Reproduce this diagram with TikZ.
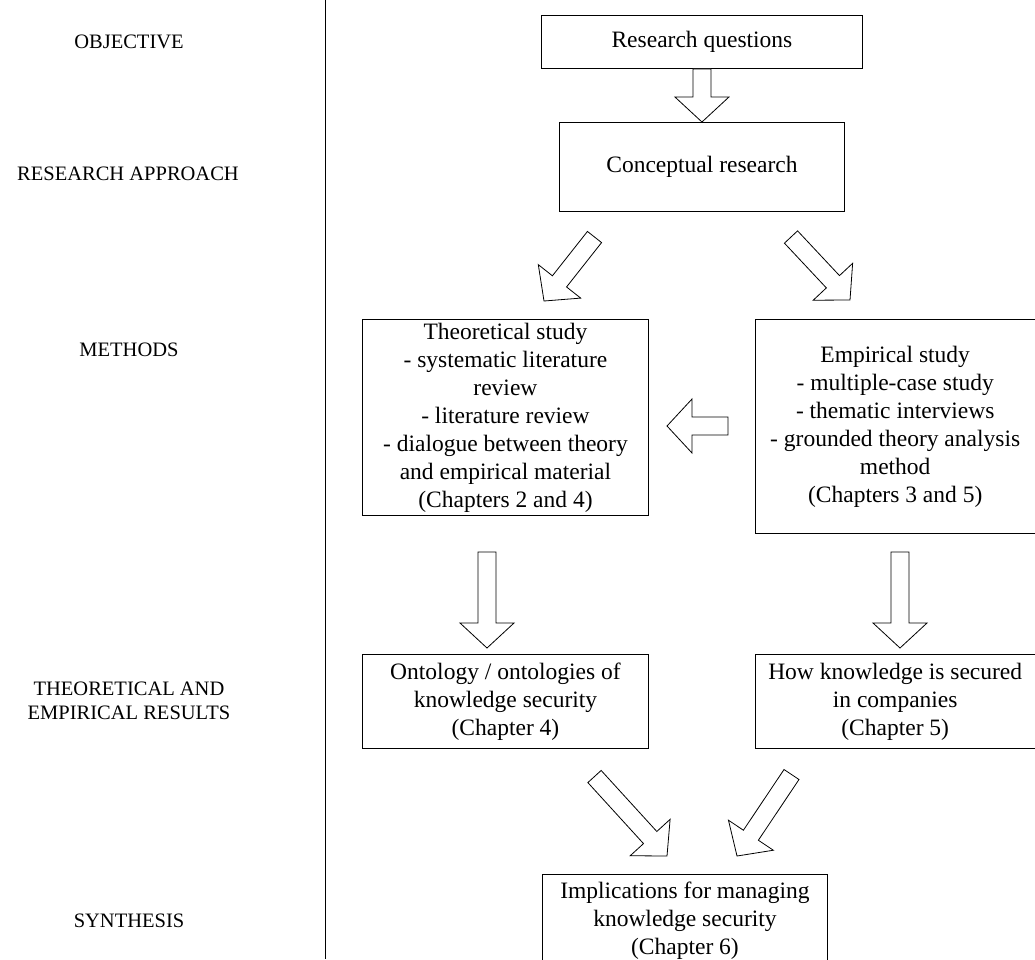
\documentclass[tikz,border=0pt]{standalone}
\usepackage{fontspec}
\setmainfont{Liberation Serif}
\usetikzlibrary{calc}

% dimensions of the hollow block arrows
\newcommand\bashaft{9pt}
\newcommand\bawing{27pt}
\newcommand\bahead{25pt}
% hollow block arrow from #1 (tail centre) to #2 (tip)
\newcommand\blockarrow[2]{%
  \coordinate (ba-c) at ($(#2)!\bahead!(#1)$);
  \draw[blockarrowline]
    ($(#1)!\bashaft!90:(#2)$) -- ($(ba-c)!\bashaft!90:(#2)$) --
    ($(ba-c)!\bawing!90:(#2)$) -- (#2) --
    ($(ba-c)!\bawing!-90:(#2)$) -- ($(ba-c)!\bashaft!-90:(#2)$) --
    ($(#1)!\bashaft!-90:(#2)$) -- cycle;
}

\begin{document}
\begin{tikzpicture}[x=1pt,y=1pt,
  box/.style={draw=black, line width=0.9pt, anchor=north west, align=center,
    inner sep=0pt, font=\fontsize{23.5}{28}\selectfont},
  rowlabel/.style={align=center, font=\fontsize{20.5}{24}\selectfont},
  blockarrowline/.style={draw=black, line width=0.8pt, fill=white, line join=miter}]
\useasboundingbox (0,0) rectangle (1035,-959);
\clip (0,0) rectangle (1035,-959);

% row labels and separator
\node[rowlabel] (lobj) at (129,-42) {OBJECTIVE};
\node[rowlabel] (lapp) at (128,-174) {RESEARCH APPROACH};
\node[rowlabel] (lmet) at (129,-350) {METHODS};
\node[rowlabel] (lres) at (129,-701) {THEORETICAL AND\\EMPIRICAL RESULTS};
\node[rowlabel] (lsyn) at (129,-921) {SYNTHESIS};
\draw[line width=0.8pt] (325,0) coordinate (sepT) -- (325,-959) coordinate (sepB);

% boxes
\node[box, minimum width=321, minimum height=53] (rq) at (541,-15) {Research questions};
\node[box, minimum width=285, minimum height=89] (cr) at (559,-122) {Conceptual research};
\node[box, minimum width=286, minimum height=196] (ts) at (362,-319)
  {Theoretical study\\- systematic literature\\review\\- literature review\\- dialogue between theory\\and empirical material\\(Chapters 2 and 4)};
\node[box, minimum width=279.5, minimum height=214] (es) at (755,-319)
  {Empirical study\\- multiple-case study\\- thematic interviews\\- grounded theory analysis\\method\\(Chapters 3 and 5)};
\node[box, minimum width=286, minimum height=94] (on) at (362,-654)
  {Ontology / ontologies of\\knowledge security\\(Chapter 4)};
\node[box, minimum width=279.5, minimum height=94] (hk) at (755,-654)
  {How knowledge is secured\\in companies\\(Chapter 5)};
\node[box, minimum width=285, minimum height=92] (im) at (542,-874)
  {Implications for managing\\knowledge security\\(Chapter 6)};

% arrow end points
\coordinate (a2s) at (594.5,-237);  \coordinate (a2e) at (544,-301);
\coordinate (a3s) at (791,-237);    \coordinate (a3e) at (850,-300);
\coordinate (a4s) at (728,-426);    \coordinate (a4e) at (667,-426);
\coordinate (a5s) at (487,-552);    \coordinate (a5e) at (487,-648);
\coordinate (a6s) at (900,-552);    \coordinate (a6e) at (900,-648);
\coordinate (a7s) at (594.5,-776.5); \coordinate (a7e) at (667,-856);
\coordinate (a8s) at (791.5,-774.5); \coordinate (a8e) at (737,-856);

% block arrows
\blockarrow{rq.south}{cr.north}
\blockarrow{a2s}{a2e}
\blockarrow{a3s}{a3e}
\blockarrow{a4s}{a4e}
\blockarrow{a5s}{a5e}
\blockarrow{a6s}{a6e}
\blockarrow{a7s}{a7e}
\blockarrow{a8s}{a8e}
\end{tikzpicture}
\end{document}
